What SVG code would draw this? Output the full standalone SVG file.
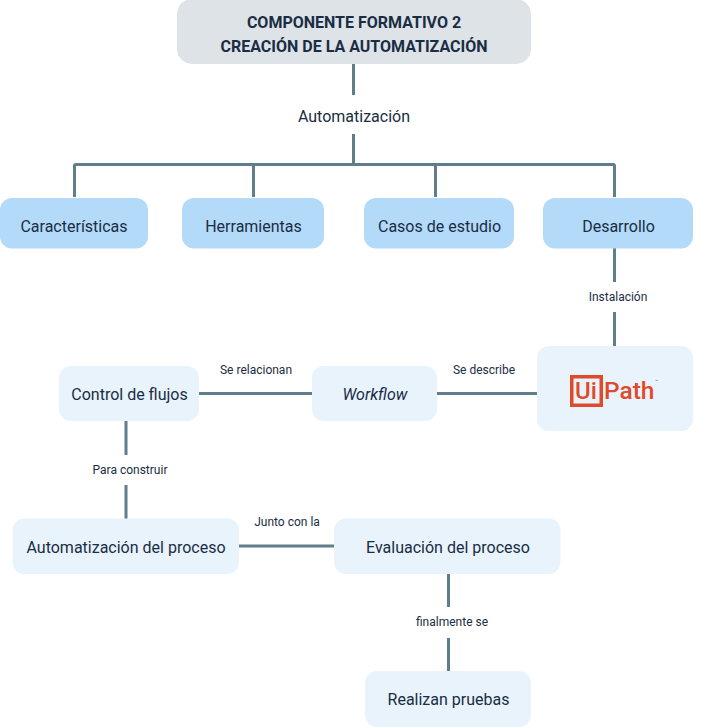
<svg xmlns="http://www.w3.org/2000/svg" width="713" height="728" viewBox="0 0 713 728">
<style>
text{font-family:Roboto,"Liberation Sans",sans-serif;fill:#1a2d44;text-anchor:middle}
.n{font-size:16px}
.l{font-size:12px}
.c{fill:none;stroke:#607d8b;stroke-width:3}
.b{fill:#b3daf9}
.p{fill:#e8f3fc}
.logo{fill:#e0492a;font-weight:500;text-anchor:start}
</style>
<rect width="713" height="728" fill="#fff"/>
<g id="connectors">
<path class="c" d="M353.500 64V95M353.500 134V164M74.500 197V166Q74.500 164.500 76 164.500H613Q614.500 164.500 614.500 166V197M253.500 164V197M435.500 164V197"/>
<path class="c" d="M614.500 248V282M614.500 312V346M437 393.500H537M199 393.500H312M126 421V455M126 485V519M239 546H334M448.500 574V607M448.500 638V671"/>
</g>
<g id="root"><rect x="177" y="-1" width="354" height="65" rx="15" fill="#dee3e7"/><text x="354" y="27.500" font-size="16" font-weight="700">COMPONENTE FORMATIVO 2</text><text x="354" y="51.500" font-size="16" font-weight="700">CREACIÓN DE LA AUTOMATIZACIÓN</text></g>
<g id="automatizacion"><text class="n" x="354" y="122">Automatización</text></g>
<g id="caracteristicas"><rect class="b" x="0" y="198" width="148" height="50.500" rx="12"/><text class="n" x="74" y="232">Características</text></g>
<g id="herramientas"><rect class="b" x="182" y="198" width="142" height="50.500" rx="12"/><text class="n" x="253.500" y="232">Herramientas</text></g>
<g id="casos"><rect class="b" x="364" y="198" width="150" height="50.500" rx="12"/><text class="n" x="439.500" y="232">Casos de estudio</text></g>
<g id="desarrollo"><rect class="b" x="543" y="198" width="150" height="50.500" rx="12"/><text class="n" x="618.500" y="232">Desarrollo</text></g>
<g id="instalacion"><text class="l" x="618" y="301">Instalación</text></g>
<g id="uipath"><rect class="p" x="537" y="346" width="156" height="85" rx="12"/>
<rect x="571.750" y="376.750" width="29.500" height="28.500" fill="none" stroke="#e0492a" stroke-width="3.500"/>
<text class="logo" x="575" y="399" font-size="24">Ui</text><text class="logo" x="604" y="399" font-size="24.500">Path</text><text class="logo" x="655" y="383" font-size="5">™</text></g>
<g id="se-describe"><text class="l" x="484" y="374">Se describe</text></g>
<g id="workflow"><rect class="p" x="312" y="366" width="125" height="55" rx="12"/><text class="n" x="375" y="400" font-style="italic">Workflow</text></g>
<g id="se-relacionan"><text class="l" x="256" y="374">Se relacionan</text></g>
<g id="control"><rect class="p" x="59" y="366" width="140" height="55" rx="12"/><text class="n" x="129.500" y="400">Control de flujos</text></g>
<g id="para-construir"><text class="l" x="130" y="474">Para construir</text></g>
<g id="automatizacion-proceso"><rect class="p" x="12.500" y="518.500" width="226.500" height="55.500" rx="12"/><text class="n" x="126" y="553">Automatización del proceso</text></g>
<g id="junto"><text class="l" x="287" y="526">Junto con la</text></g>
<g id="evaluacion"><rect class="p" x="334" y="518.500" width="226.500" height="55.500" rx="12"/><text class="n" x="448" y="553">Evaluación del proceso</text></g>
<g id="finalmente"><text class="l" x="452" y="626">finalmente se</text></g>
<g id="pruebas"><rect class="p" x="365" y="671" width="166" height="56" rx="12"/><text class="n" x="448.500" y="705">Realizan pruebas</text></g>
</svg>
